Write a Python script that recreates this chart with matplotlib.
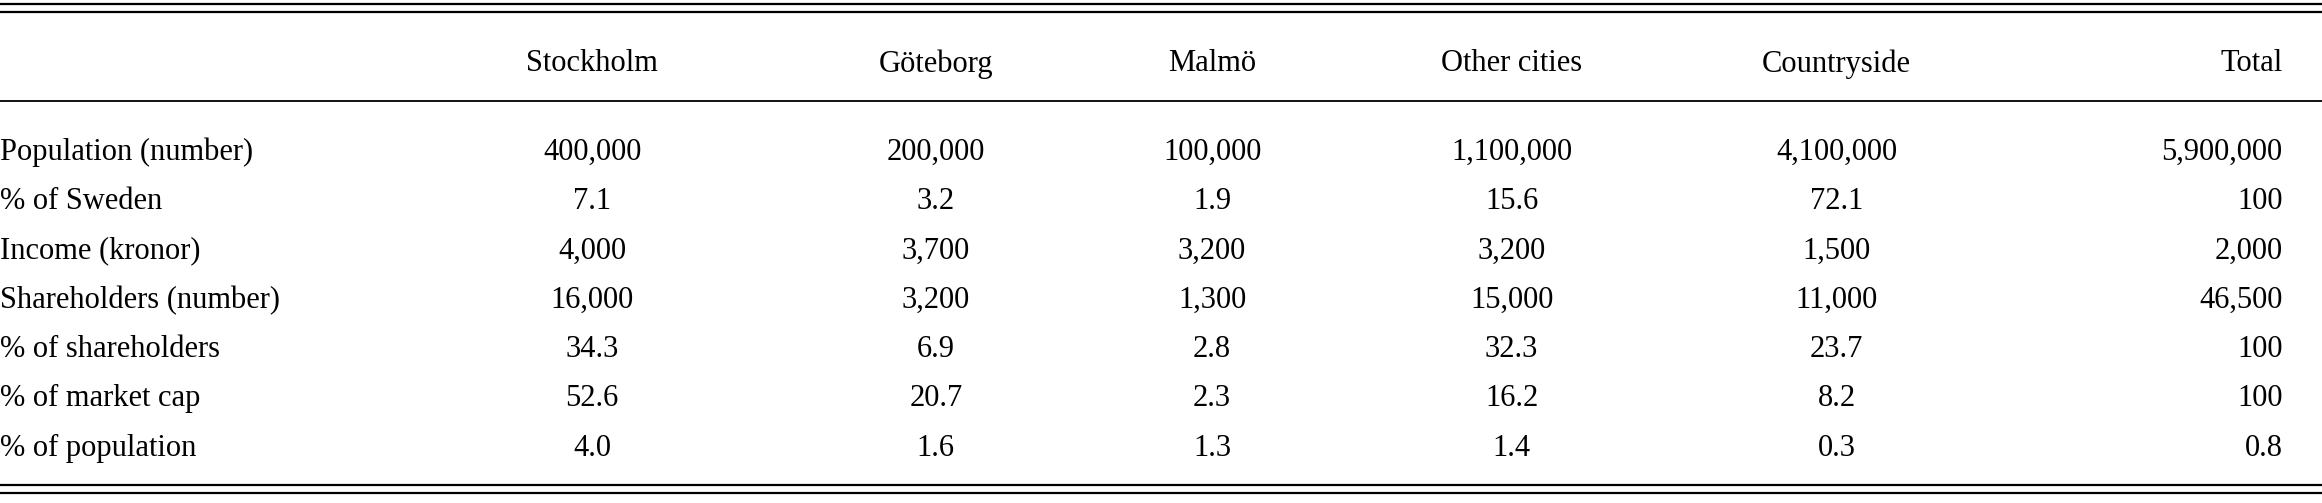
import matplotlib.pyplot as plt

columns = ["Stockholm", "Göteborg", "Malmö", "Other cities", "Countryside", "Total"]
row_labels = ["Population (number)", "% of Sweden", "Income (kronor)", "Shareholders (number)",
              "% of shareholders", "% of market cap", "% of population"]
cells = [
    ["400,000", "200,000", "100,000", "1,100,000", "4,100,000", "5,900,000"],
    ["7.1", "3.2", "1.9", "15.6", "72.1", "100"],
    ["4,000", "3,700", "3,200", "3,200", "1,500", "2,000"],
    ["16,000", "3,200", "1,300", "15,000", "11,000", "46,500"],
    ["34.3", "6.9", "2.8", "32.3", "23.7", "100"],
    ["52.6", "20.7", "2.3", "16.2", "8.2", "100"],
    ["4.0", "1.6", "1.3", "1.4", "0.3", "0.8"],
]

plt.rcParams['font.family'] = ['Liberation Serif', 'DejaVu Serif']
fig = plt.figure(figsize=(23.22, 5.03), dpi=100)
ax = fig.add_axes([0, 0, 1, 1])
ax.set_xlim(0, 1)
ax.set_ylim(1, 0)
ax.axis("off")

fs = 22
col_x = [0.255, 0.403, 0.522, 0.651, 0.791, 0.983]

# rules
for y in (0.008, 0.023, 0.965, 0.98):
    ax.axhline(y, color="black", lw=1.6)
ax.axhline(0.2, color="black", lw=1.3)

header_y = 0.127
for i, c in enumerate(columns):
    ha = "right" if i == len(columns) - 1 else "center"
    ax.text(col_x[i], header_y, c, fontsize=fs, ha=ha, va="center")

for r, (lab, vals) in enumerate(zip(row_labels, cells)):
    y = 0.303 + r * 0.098
    ax.text(0.0, y, lab, fontsize=fs, ha="left", va="center")
    for i, v in enumerate(vals):
        ha = "right" if i == len(vals) - 1 else "center"
        ax.text(col_x[i], y, v, fontsize=fs, ha=ha, va="center")

fig.savefig("out.png", dpi=100)
